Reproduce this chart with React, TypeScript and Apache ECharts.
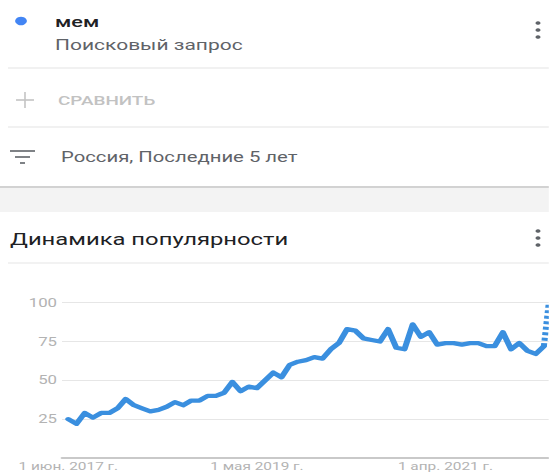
import React, { useEffect, useRef } from 'react';
import * as echarts from 'echarts';

// Horizontal stretch of the reference screenshot
const S = 1.4;
const W = 549 / S;
const H = 472;

// Monthly popularity values, Jun 2017 .. Apr 2022
const values = [
  25, 22, 29, 26, 29, 29, 32, 38, 34, 32,
  30, 31, 33, 36, 34, 37, 37, 40, 40, 42,
  49, 43, 46, 45, 50, 55, 52, 60, 62, 63,
  65, 64, 70, 74, 83, 82, 77, 76, 75, 83,
  71, 70, 86, 78, 81, 73, 74, 74, 73, 74,
  74, 72, 72, 81, 70, 74, 69, 67, 72,
];
// Partial (incomplete) last period, drawn dotted
const partialValue = 100;
const partialOffset = 0.6;

const xTickIndex = [0, 23, 46];
const xTickLabels = ['1 июн. 2017 г.', '1 мая 2019 г.', '1 апр. 2021 г.'];
const yTicks = [0, 25, 50, 75, 100];

const term = 'мем';
const termType = 'Поисковый запрос';
const compareText = 'СРАВНИТЬ';
const filterText = 'Россия, Последние 5 лет';
const cardTitle = 'Динамика популярности';

const X = (px: number) => px / S;

export default function App() {
  const ref = useRef<HTMLDivElement>(null);

  useEffect(() => {
    if (!ref.current) return;
    const chart = echarts.init(ref.current, null, { renderer: 'svg' });
    const font = 'Roboto, "Noto Sans", sans-serif';
    const last = values.length - 1;

    const kebab = (cx: number, cy: number) => [-7, 0, 7].map((d) => ({
      type: 'circle',
      shape: { cx: X(cx), cy: cy + d, r: 1.8 },
      style: { fill: '#5f6368' },
    }));

    const hline = (y: number, color: string, w = 1, x1 = 8) => ({
      type: 'line',
      shape: { x1: X(x1), y1: y, x2: W, y2: y },
      style: { stroke: color, lineWidth: w },
    });

    const text = (x: number, y: number, t: string, size: number, color: string, weight = 'normal') => ({
      type: 'text',
      x: X(x),
      y,
      style: {
        text: t,
        fontFamily: font,
        fontSize: size,
        fontWeight: weight,
        fill: color,
        textAlign: 'left',
        textVerticalAlign: 'middle',
      },
    });

    chart.setOption({
      animation: false,
      backgroundColor: '#ffffff',
      textStyle: { fontFamily: font },
      graphic: {
        elements: [
          { type: 'circle', shape: { cx: X(21), cy: 21, r: 4.2 }, style: { fill: '#4285f4' } },
          text(55, 22, term, 15.5, '#202124', '500'),
          text(55, 45, termType, 15, '#5f6368'),
          ...kebab(538, 30),
          hline(68, '#e3e3e3'),
          { type: 'line', shape: { x1: X(16), y1: 100, x2: X(34), y2: 100 }, style: { stroke: '#c4c4c4', lineWidth: 1.6 } },
          { type: 'line', shape: { x1: X(25), y1: 92, x2: X(25), y2: 108 }, style: { stroke: '#c4c4c4', lineWidth: 1.6 / S } },
          text(58, 100, compareText, 13.5, '#c2c2c2', '500'),
          hline(127, '#e3e3e3'),
          { type: 'line', shape: { x1: X(10), y1: 151, x2: X(35), y2: 151 }, style: { stroke: '#5f6368', lineWidth: 1.6 } },
          { type: 'line', shape: { x1: X(15), y1: 157, x2: X(30), y2: 157 }, style: { stroke: '#5f6368', lineWidth: 1.6 } },
          { type: 'line', shape: { x1: X(20), y1: 163, x2: X(25), y2: 163 }, style: { stroke: '#5f6368', lineWidth: 1.6 } },
          text(61, 157, filterText, 14.5, '#5f6368'),
          { type: 'rect', shape: { x: 0, y: 187, width: W, height: 25 }, style: { fill: '#f3f3f3' } },
          hline(187, '#d2d2d2', 2, 0),
          text(10, 239, cardTitle, 17, '#202124'),
          ...kebab(538, 238),
          hline(263, '#e6e6e6'),
        ],
      },
      grid: { left: X(62), right: 0, top: 302.7, bottom: 13 },
      xAxis: {
        type: 'value',
        min: -0.77,
        max: last + partialOffset,
        axisLine: { show: true, lineStyle: { color: '#c9c9c9', width: 2 } },
        axisTick: { show: false },
        splitLine: { show: false },
        axisLabel: {
          customValues: xTickIndex,
          formatter: (v: number) => {
            const k = xTickIndex.indexOf(Math.round(v));
            return k >= 0 ? xTickLabels[k] : '';
          },
          color: '#b3b3b3',
          fontSize: 11,
          margin: 3,
          fontFamily: font,
        },
      },
      yAxis: {
        type: 'value',
        min: yTicks[0],
        max: yTicks[yTicks.length - 1],
        interval: 25,
        axisLine: { show: false },
        axisTick: { show: false },
        splitLine: { show: true, lineStyle: { color: '#e6e6e6', width: 1 } },
        axisLabel: {
          formatter: (v: number) => (v === 0 ? '' : String(v)),
          color: '#b3b3b3',
          fontSize: 12,
          margin: X(5),
          fontFamily: font,
        },
      },
      series: [
        {
          type: 'line',
          data: values.map((v, i) => [i, v]),
          showSymbol: false,
          smooth: false,
          lineStyle: { color: '#3a8fdf', width: 4.3, join: 'round', cap: 'round' },
          itemStyle: { color: '#3a8fdf' },
          clip: false,
          z: 3,
        },
        {
          type: 'line',
          data: [[last, values[last]], [last + partialOffset, partialValue]],
          showSymbol: false,
          lineStyle: { color: '#3a8fdf', width: 4.3, type: [3, 2.5] },
          itemStyle: { color: '#3a8fdf' },
          clip: false,
          z: 3,
        },
      ],
    });

    return () => chart.dispose();
  }, []);

  return (
    <div
      ref={ref}
      style={{
        position: 'absolute',
        left: 0,
        top: 0,
        width: W,
        height: H,
        transform: `scaleX(${S})`,
        transformOrigin: '0 0',
      }}
    />
  );
}
